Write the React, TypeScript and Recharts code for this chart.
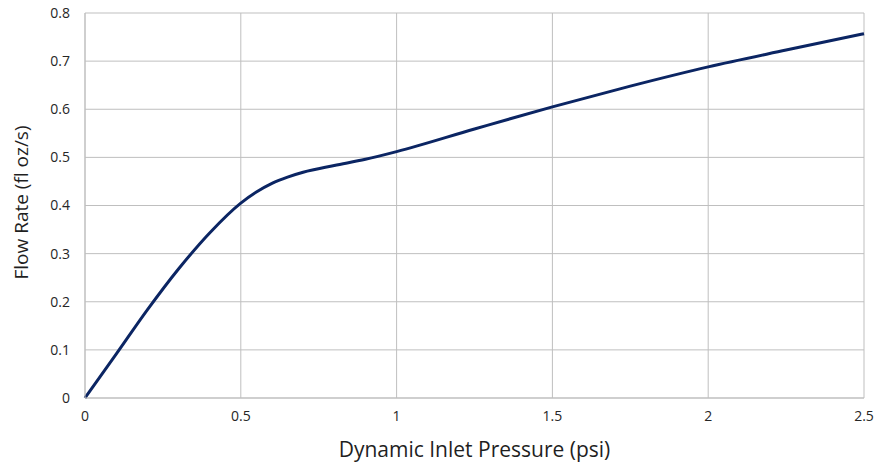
import React from "react";
import { LineChart, Line, XAxis, YAxis, CartesianGrid, Label } from "recharts";

const pressure = [0, 0.1, 0.2, 0.3, 0.4, 0.5, 0.55, 0.6, 0.65, 0.7, 0.8, 0.9, 1.0, 1.25, 1.5, 1.75, 2.0, 2.25, 2.5];
const flowRate = [0, 0.091, 0.183, 0.268, 0.343, 0.405, 0.428, 0.446, 0.459, 0.469, 0.483, 0.496, 0.512, 0.559, 0.605, 0.648, 0.688, 0.723, 0.757];
const xTicks = [0, 0.5, 1, 1.5, 2, 2.5];
const yTicks = [0, 0.1, 0.2, 0.3, 0.4, 0.5, 0.6, 0.7, 0.8];
const xTitle = "Dynamic Inlet Pressure (psi)";
const yTitle = "Flow Rate (fl oz/s)";

const data = pressure.map((p, i) => ({ p, f: flowRate[i] }));

const FONT = "'Open Sans', Lato, sans-serif";
const GRID = "#bfbfbf";

const XTitle = (props: any) => {
  const vb = props.viewBox || {};
  return (
    <text
      x={vb.x + vb.width / 2}
      y={vb.y + 51}
      textAnchor="middle"
      dominantBaseline="central"
      fontSize={21}
      fontFamily={FONT}
      fill="#1f1f1f"
    >
      {xTitle}
    </text>
  );
};

const YTitle = (props: any) => {
  const vb = props.viewBox || {};
  const cx = vb.x + 21;
  const cy = vb.y + vb.height / 2 - 3;
  return (
    <text
      x={cx}
      y={cy}
      transform={`rotate(-90 ${cx} ${cy})`}
      textAnchor="middle"
      dominantBaseline="central"
      fontSize={19}
      fontFamily={FONT}
      fill="#1f1f1f"
    >
      {yTitle}
    </text>
  );
};

export default function App() {
  return (
    <div style={{ position: "absolute", left: 0, top: 0, width: 876, height: 464, background: "#fff" }}>
      <LineChart
        width={876}
        height={464}
        data={data}
        margin={{ top: 13, right: 12, left: 0, bottom: 0 }}
      >
        <CartesianGrid stroke={GRID} strokeWidth={1} />
        <XAxis
          dataKey="p"
          type="number"
          domain={[0, 2.5]}
          ticks={xTicks}
          height={66}
          tickLine={false}
          tickSize={0}
          tickMargin={13}
          axisLine={{ stroke: GRID }}
          tick={{ fontSize: 14, fontFamily: FONT, fill: "#262626" }}
        >
          <Label content={<XTitle />} />
        </XAxis>
        <YAxis
          type="number"
          domain={[0, 0.8]}
          ticks={yTicks}
          width={85}
          tickLine={false}
          tickSize={0}
          tickMargin={15}
          axisLine={{ stroke: GRID }}
          tick={{ fontSize: 14, fontFamily: FONT, fill: "#262626" }}
        >
          <Label content={<YTitle />} />
        </YAxis>
        <Line
          dataKey="f"
          type="monotone"
          stroke="#0b2563"
          strokeWidth={3}
          dot={false}
          isAnimationActive={false}
        />
      </LineChart>
    </div>
  );
}
